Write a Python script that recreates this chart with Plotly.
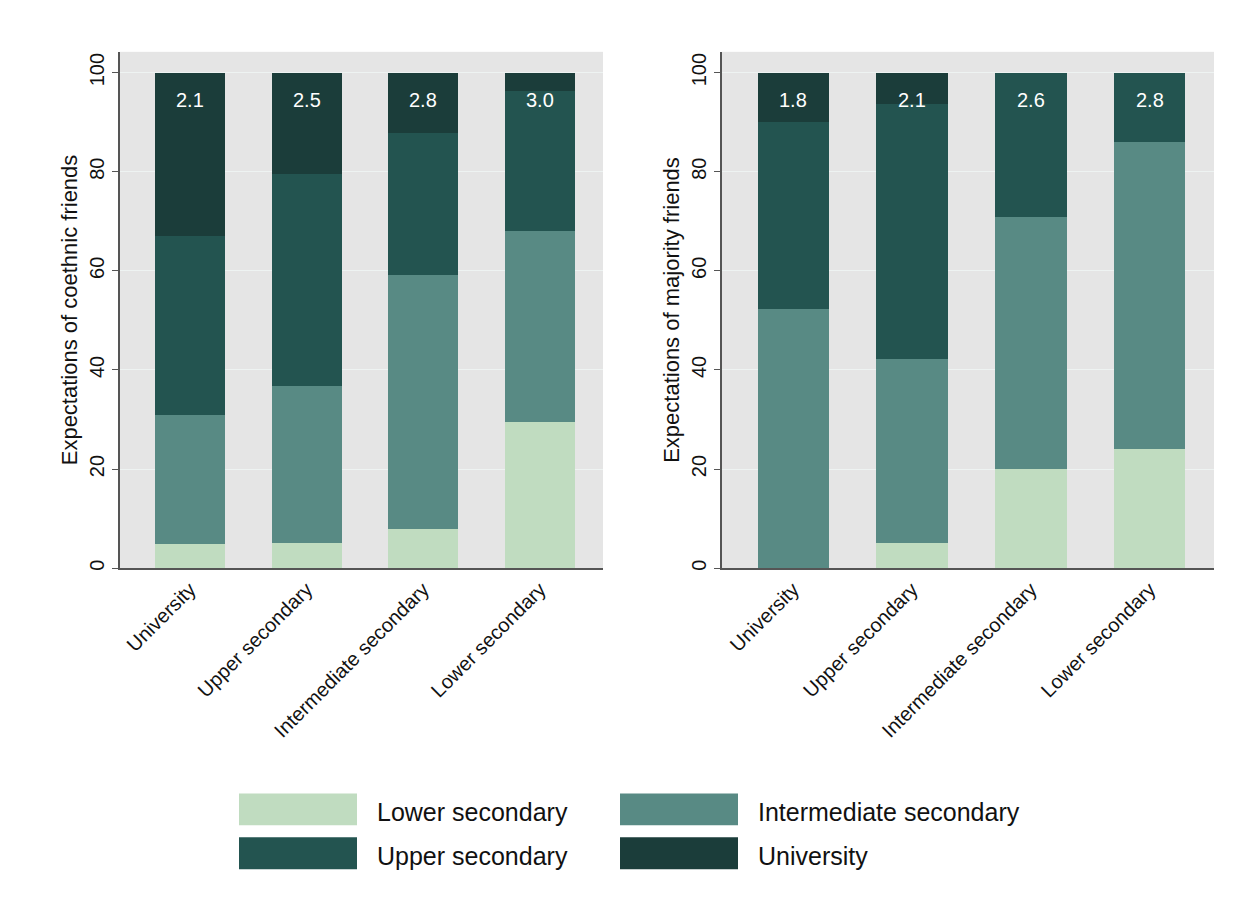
import plotly.graph_objects as go

# Respondent's own educational track (x categories)
categories = ["University", "Upper secondary", "Intermediate secondary", "Lower secondary"]

# Expected educational level of friends (stack segments, bottom to top)
levels = ["Lower secondary", "Intermediate secondary", "Upper secondary", "University"]
colors = ["#c0dcc0", "#588a84", "#235450", "#1b3d3a"]

# Percent shares, coethnic friends
coethnic = {
    "Lower secondary":        [4.8, 5.0, 7.8, 29.5],
    "Intermediate secondary": [26.1, 31.7, 51.4, 38.6],
    "Upper secondary":        [36.2, 42.8, 28.6, 28.1],
    "University":             [32.9, 20.5, 12.2, 3.8],
}
coethnic_mean = [2.1, 2.5, 2.8, 3.0]

# Percent shares, majority friends
majority = {
    "Lower secondary":        [0.0, 5.0, 20.1, 24.1],
    "Intermediate secondary": [52.2, 37.2, 50.8, 62.0],
    "Upper secondary":        [37.8, 51.4, 29.1, 13.9],
    "University":             [10.0, 6.4, 0.0, 0.0],
}
majority_mean = [1.8, 2.1, 2.6, 2.8]

y_ticks = [0, 20, 40, 60, 80, 100]
label_y = 94.4

W, H = 1252, 911
FONT = "Liberation Sans, Arial, sans-serif"

fig = go.Figure()

for panel, (data, xa, ya) in enumerate([(coethnic, "x", "y"), (majority, "x2", "y2")]):
    for lvl, col in zip(levels, colors):
        fig.add_trace(go.Bar(
            x=categories, y=data[lvl], name=lvl,
            marker=dict(color=col, line=dict(width=0)),
            width=0.6, xaxis=xa, yaxis=ya, showlegend=False,
            hovertemplate="%{x}<br>" + lvl + ": %{y:.1f}<extra></extra>",
        ))

# Mean labels near the top of each bar
for means, xa, ya in [(coethnic_mean, "x", "y"), (majority_mean, "x2", "y2")]:
    for cat, m in zip(categories, means):
        fig.add_annotation(
            x=cat, y=label_y, xref=xa, yref=ya, text=f"{m:.1f}",
            showarrow=False, font=dict(family=FONT, size=20, color="white"),
        )

axis_common = dict(
    showline=True, linecolor="#555555", linewidth=1.5,
    tickfont=dict(family=FONT, size=20, color="#111111"),
)
xaxis_common = dict(axis_common, type="category", range=[-0.6, 3.54],
                    tickangle=-45, ticks="", showgrid=False)
yaxis_common = dict(axis_common, range=[0, 104.2], tickvals=y_ticks,
                    tickangle=-90, ticks="outside", ticklen=6, tickwidth=1.2,
                    tickcolor="#555555", showgrid=True, gridcolor="#eef3f2",
                    gridwidth=1, zeroline=False)

y_dom = [1 - 570 / H, 1 - 52 / H]

fig.update_layout(
    width=W, height=H,
    margin=dict(l=0, r=0, t=0, b=0),
    paper_bgcolor="white", plot_bgcolor="#e5e5e5",
    barmode="stack", bargap=0.4,
    font=dict(family=FONT, color="#111111"),
    xaxis=dict(xaxis_common, domain=[120 / W, 603 / W], anchor="y"),
    yaxis=dict(yaxis_common, domain=y_dom, anchor="x",
               title=dict(text="Expectations of coethnic friends",
                          font=dict(family=FONT, size=22), standoff=3)),
    xaxis2=dict(xaxis_common, domain=[722 / W, 1214 / W], anchor="y2"),
    yaxis2=dict(yaxis_common, domain=y_dom, anchor="x2",
                title=dict(text="Expectations of majority friends",
                           font=dict(family=FONT, size=22), standoff=3)),
)

# Legend: colour keys with labels, two columns
legend_pos = [(239, 796), (620, 796), (239, 840), (620, 840)]
for (lx, ly), lvl, col in zip(legend_pos, levels, colors):
    fig.add_shape(type="rect", xref="paper", yref="paper",
                  x0=lx / W, x1=(lx + 118) / W,
                  y0=1 - (ly + 32) / H, y1=1 - ly / H,
                  fillcolor=col, line=dict(width=0))
    fig.add_annotation(xref="paper", yref="paper",
                       x=(lx + 136) / W, y=1 - (ly + 19) / H,
                       xanchor="left", yanchor="middle", showarrow=False,
                       text=lvl, font=dict(family=FONT, size=25, color="#111111"))

fig.write_html("out.html")
